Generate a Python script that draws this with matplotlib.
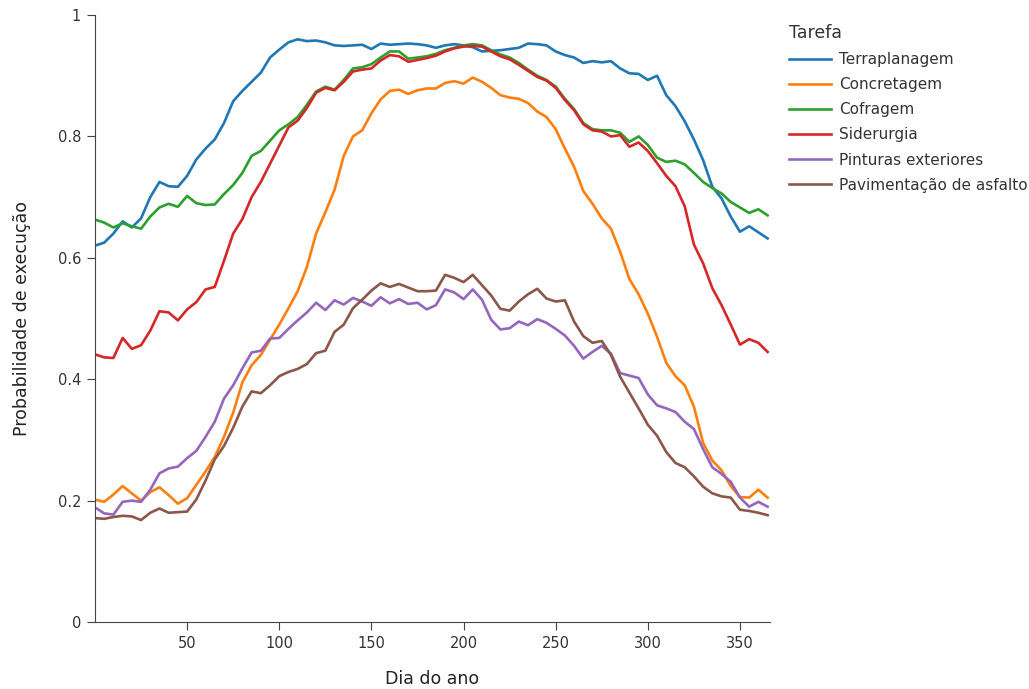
import matplotlib
matplotlib.use("Agg")
import matplotlib.pyplot as plt

# dia do ano (amostrado a cada 5 dias)
dias = [1, 5, 10, 15, 20, 25, 30, 35, 40, 45, 50, 55, 60, 65, 70, 75, 80, 85, 90, 95,
        100, 105, 110, 115, 120, 125, 130, 135, 140, 145, 150, 155, 160, 165, 170, 175,
        180, 185, 190, 195, 200, 205, 210, 215, 220, 225, 230, 235, 240, 245, 250, 255,
        260, 265, 270, 275, 280, 285, 290, 295, 300, 305, 310, 315, 320, 325, 330, 335,
        340, 345, 350, 355, 360, 365]

terraplanagem = [0.621, 0.625, 0.64, 0.66, 0.65, 0.665, 0.70, 0.725, 0.718, 0.717, 0.735, 0.762,
                 0.78, 0.795, 0.822, 0.858, 0.875, 0.89, 0.905, 0.93, 0.943, 0.955, 0.96, 0.957,
                 0.958, 0.955, 0.95, 0.949, 0.95, 0.951, 0.944, 0.953, 0.951, 0.952, 0.953, 0.952,
                 0.95, 0.946, 0.95, 0.952, 0.95, 0.947, 0.94, 0.941, 0.942, 0.944, 0.946, 0.953,
                 0.952, 0.95, 0.94, 0.934, 0.93, 0.921, 0.924, 0.922, 0.924, 0.912, 0.904, 0.903,
                 0.893, 0.90, 0.868, 0.85, 0.825, 0.795, 0.761, 0.717, 0.698, 0.668, 0.643, 0.652,
                 0.642, 0.632]

concretagem = [0.201, 0.198, 0.21, 0.224, 0.212, 0.2, 0.214, 0.222, 0.209, 0.195, 0.204, 0.226,
               0.248, 0.272, 0.305, 0.345, 0.395, 0.423, 0.44, 0.465, 0.49, 0.517, 0.545, 0.585,
               0.64, 0.675, 0.712, 0.768, 0.80, 0.81, 0.838, 0.861, 0.875, 0.877, 0.87, 0.876,
               0.879, 0.879, 0.888, 0.891, 0.887, 0.897, 0.89, 0.88, 0.868, 0.864, 0.862, 0.855,
               0.841, 0.832, 0.812, 0.78, 0.75, 0.71, 0.689, 0.665, 0.648, 0.61, 0.565, 0.54,
               0.508, 0.47, 0.427, 0.405, 0.39, 0.355, 0.295, 0.266, 0.25, 0.224, 0.206, 0.205,
               0.218, 0.205]

cofragem = [0.662, 0.658, 0.65, 0.657, 0.652, 0.648, 0.668, 0.683, 0.689, 0.684, 0.702, 0.69,
            0.687, 0.688, 0.705, 0.72, 0.74, 0.768, 0.776, 0.793, 0.81, 0.82, 0.832, 0.852,
            0.874, 0.882, 0.877, 0.893, 0.912, 0.914, 0.919, 0.93, 0.94, 0.94, 0.928, 0.93,
            0.932, 0.936, 0.942, 0.946, 0.95, 0.952, 0.95, 0.942, 0.935, 0.93, 0.921, 0.91,
            0.90, 0.893, 0.882, 0.862, 0.845, 0.822, 0.812, 0.81, 0.81, 0.806, 0.791, 0.80,
            0.786, 0.765, 0.758, 0.76, 0.754, 0.74, 0.725, 0.715, 0.706, 0.692, 0.683, 0.674,
            0.68, 0.67]

siderurgia = [0.44, 0.436, 0.435, 0.468, 0.45, 0.456, 0.48, 0.512, 0.51, 0.497, 0.515, 0.527,
              0.548, 0.552, 0.595, 0.64, 0.664, 0.70, 0.725, 0.755, 0.785, 0.815, 0.826, 0.847,
              0.872, 0.88, 0.876, 0.89, 0.907, 0.91, 0.912, 0.925, 0.934, 0.932, 0.923, 0.926,
              0.929, 0.933, 0.94, 0.945, 0.948, 0.949, 0.948, 0.94, 0.932, 0.927, 0.918, 0.908,
              0.898, 0.892, 0.88, 0.86, 0.843, 0.82, 0.81, 0.808, 0.80, 0.802, 0.783, 0.79,
              0.776, 0.756, 0.735, 0.718, 0.685, 0.622, 0.591, 0.55, 0.522, 0.49, 0.457, 0.466,
              0.46, 0.445]

pinturas = [0.187, 0.179, 0.177, 0.198, 0.2, 0.198, 0.218, 0.245, 0.253, 0.256, 0.27, 0.282,
            0.305, 0.33, 0.368, 0.39, 0.418, 0.444, 0.447, 0.467, 0.468, 0.483, 0.497, 0.51,
            0.526, 0.514, 0.53, 0.523, 0.534, 0.528, 0.521, 0.535, 0.525, 0.532, 0.524, 0.526,
            0.515, 0.522, 0.548, 0.543, 0.532, 0.548, 0.531, 0.498, 0.482, 0.484, 0.495, 0.489,
            0.499, 0.493, 0.483, 0.472, 0.455, 0.434, 0.445, 0.455, 0.442, 0.41, 0.406, 0.402,
            0.375, 0.357, 0.352, 0.346, 0.33, 0.318, 0.285, 0.255, 0.244, 0.231, 0.205, 0.19,
            0.198, 0.19]

pavimentacao = [0.171, 0.17, 0.173, 0.175, 0.174, 0.168, 0.18, 0.187, 0.18, 0.181, 0.182, 0.202,
                0.233, 0.268, 0.29, 0.32, 0.355, 0.38, 0.377, 0.39, 0.405, 0.412, 0.417, 0.425,
                0.443, 0.447, 0.478, 0.49, 0.517, 0.531, 0.546, 0.558, 0.552, 0.557, 0.551, 0.545,
                0.545, 0.546, 0.572, 0.567, 0.56, 0.572, 0.555, 0.538, 0.516, 0.513, 0.528, 0.54,
                0.549, 0.533, 0.528, 0.53, 0.495, 0.471, 0.46, 0.463, 0.44, 0.404, 0.378, 0.352,
                0.325, 0.307, 0.28, 0.262, 0.255, 0.24, 0.223, 0.212, 0.207, 0.205, 0.185, 0.183,
                0.18, 0.176]

tarefas = ["Terraplanagem", "Concretagem", "Cofragem", "Siderurgia",
           "Pinturas exteriores", "Pavimentação de asfalto"]
series = [terraplanagem, concretagem, cofragem, siderurgia, pinturas, pavimentacao]
cores = ["#1f77b4", "#ff7f0e", "#2ca02c", "#d62728", "#9467bd", "#8c564b"]

plt.rcParams["font.family"] = ["DejaVu Sans"]

fig = plt.figure(figsize=(10.29, 6.89), dpi=100)
ax = fig.add_axes([0.0923, 0.0972, 0.656, 0.881])

for nome, valores, cor in zip(tarefas, series, cores):
    ax.plot(dias, valores, color=cor, linewidth=1.9, label=nome)

ax.set_xlim(0, 366.3)
ax.set_ylim(0, 1)
ax.set_xticks([50, 100, 150, 200, 250, 300, 350])
ax.set_yticks([0, 0.2, 0.4, 0.6, 0.8, 1])
ax.set_yticklabels(["0", "0.2", "0.4", "0.6", "0.8", "1"])
ax.spines["top"].set_visible(False)
ax.spines["right"].set_visible(False)
for s in ["left", "bottom"]:
    ax.spines[s].set_color("#444444")
ax.tick_params(direction="out", length=6, color="#444444", labelcolor="#333333",
               labelsize=10.5, pad=4)

ax.set_xlabel("Dia do ano", fontsize=12.5, color="#222222", labelpad=14)
ax.set_ylabel("Probabilidade de execução", fontsize=12.5, color="#222222", labelpad=19)

leg = fig.legend(loc="upper left", bbox_to_anchor=(0.753, 0.985), frameon=False,
                 title="Tarefa", fontsize=11, title_fontsize=12.5,
                 handlelength=2.8, handletextpad=0.5, labelspacing=0.66,
                 alignment="left")
leg.get_title().set_color("#333333")
for t in leg.get_texts():
    t.set_color("#333333")

fig.savefig("out.png", dpi=100)
